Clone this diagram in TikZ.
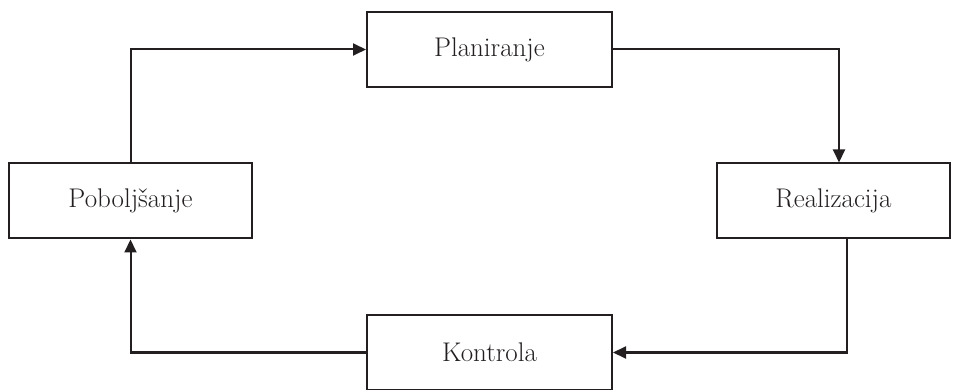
\documentclass[tikz,border=0pt]{standalone}
\usetikzlibrary{arrows.meta}
\definecolor{ink}{HTML}{231F20}
\begin{document}
\begin{tikzpicture}[x=1pt,y=-1pt,
    box/.style={draw=ink,text=ink,line width=2pt,minimum height=75pt,inner sep=0pt,
      font=\fontsize{27}{32}\selectfont},
    flow/.style={draw=ink,line width=2pt,-{Triangle[length=13pt,width=12pt]}}]
  \useasboundingbox (0,0) rectangle (954,390);
  \node[box,minimum width=245pt] (plan) at (489.5,49.5) {Planiranje};
  \node[box,minimum width=243pt] (pob) at (130.5,201) {Poboljšanje};
  \node[box,minimum width=233pt] (real) at (833.5,201) {Realizacija};
  \node[box,minimum width=245pt] (kon) at (489.5,352.5) {Kontrola};
  \draw[flow] (pob.north) |- (plan.west);
  \draw[flow] (plan.east) -| ([xshift=5.5pt]real.north);
  \draw[flow] ([xshift=13.5pt]real.south) |- (kon.east);
  \draw[flow] (kon.west) -| (pob.south);
\end{tikzpicture}
\end{document}
